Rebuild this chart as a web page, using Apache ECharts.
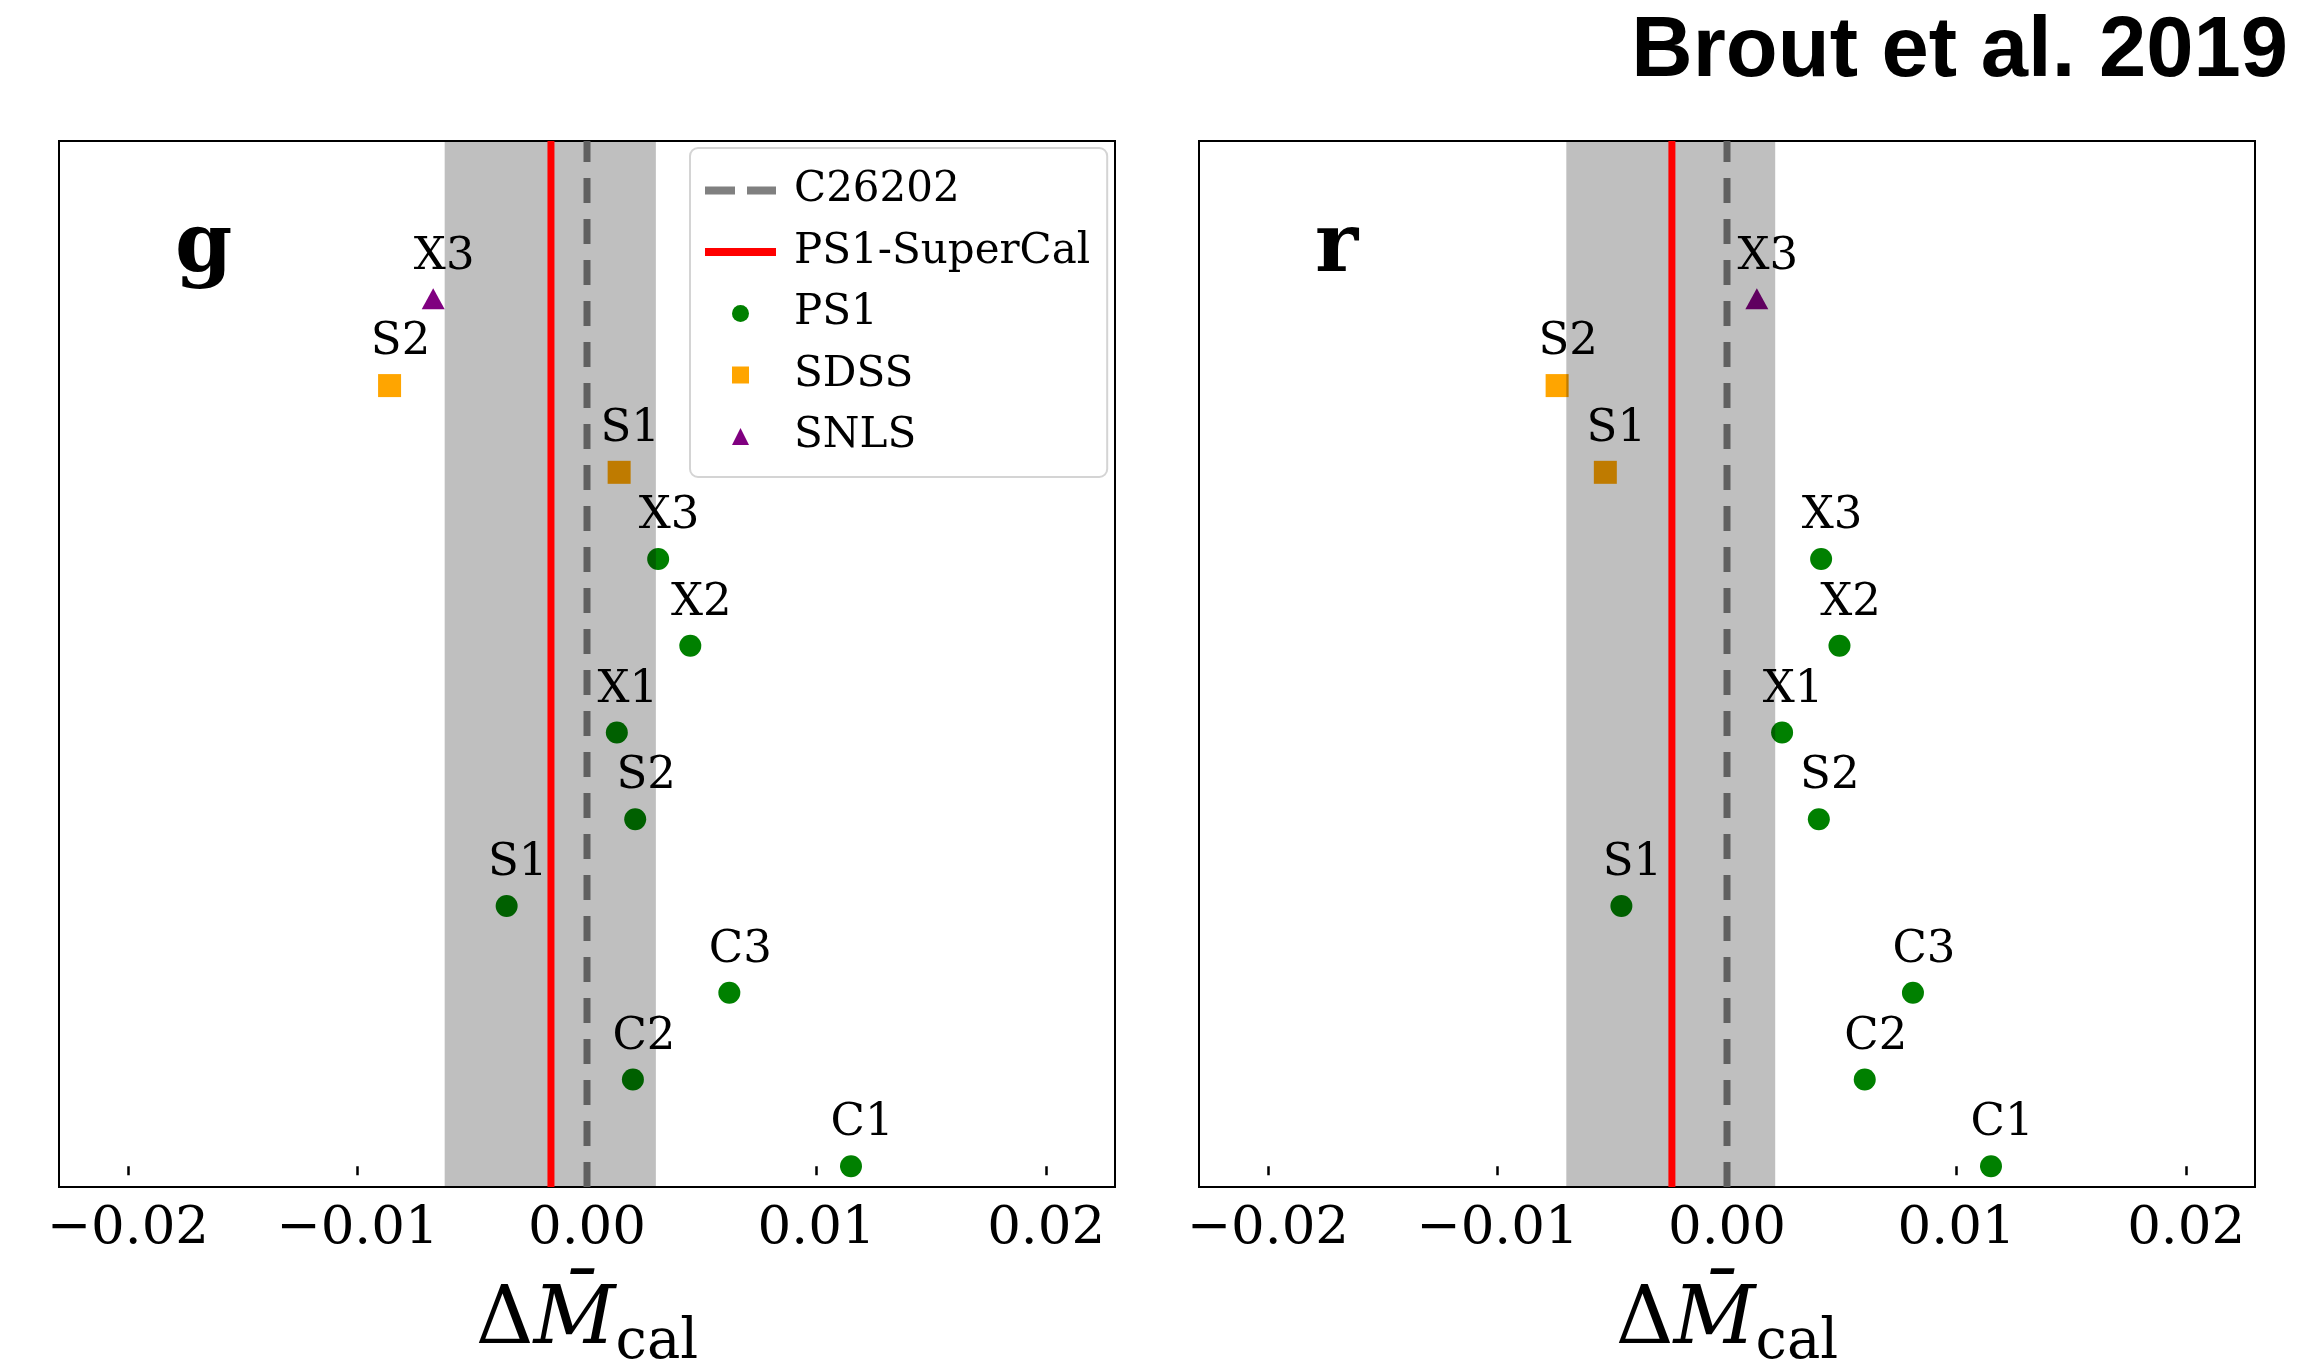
<!DOCTYPE html>
<html><head><meta charset="utf-8">
<script src="https://cdn.jsdelivr.net/npm/echarts@6/dist/echarts.min.js"></script>
<style>html,body{margin:0;padding:0;background:#fff}#c{width:2306px;height:1364px}</style>
</head><body><div id="c"></div>
<script>
// ---------- data ----------
const panelNames = ['g', 'r'];
const ps1Fields = ['C1', 'C2', 'C3', 'S1', 'S2', 'X1', 'X2', 'X3'];
const sdssFields = ['S1', 'S2'];
const snlsFields = ['X3'];
const ps1Rows = [0, 1, 2, 3, 4, 5, 6, 7];
const sdssRows = [8, 9];
const snlsRows = [10];
const gPS1 = [0.0115, 0.0020, 0.0062, -0.0035, 0.0021, 0.0013, 0.0045, 0.0031];
const gSDSS = [0.0014, -0.0086];
const gSNLS = [-0.0067];
const rPS1 = [0.0115, 0.0060, 0.0081, -0.0046, 0.0040, 0.0024, 0.0049, 0.0041];
const rSDSS = [-0.0053, -0.0074];
const rSNLS = [0.0013];
const supercalOffset = [-0.00157, -0.0024];   // g, r
const supercalBandLo = [-0.0062, -0.0070];
const supercalBandHi = [0.0030, 0.0021];
const c26202Offset = [0, 0];
const tickValues = [-0.02, -0.01, 0, 0.01, 0.02];
const xRange = [-0.023, 0.023];
const yRange = [-0.24, 11.82];

// ---------- chart ----------
const chart = echarts.init(document.getElementById('c'), null, {renderer: 'canvas'});
const SERIF = 'DejaVu Serif';
const panelData = [
  {ps1: gPS1, sdss: gSDSS, snls: gSNLS},
  {ps1: rPS1, sdss: rSDSS, snls: rSNLS}
];

function scatter(gi, name, xs, rows, fields, symbol, size, color) {
  return {
    type: 'scatter', name, xAxisIndex: gi, yAxisIndex: gi, z: 2,
    symbol, symbolSize: size,
    itemStyle: {color, opacity: 1, borderWidth: 0},
    data: xs.map((x, i) => ({value: [x, rows[i]], name: fields[i]})),
    label: {show: true, position: 'top', distance: 9, offset: [11, 0], formatter: '{b}',
      fontFamily: SERIF, fontSize: 45, lineHeight: 45, color: '#000'},
    emphasis: {disabled: true}, silent: true, animation: false
  };
}

const series = [];
panelData.forEach((pd, gi) => {
  series.push({
    type: 'line', name: 'C26202', xAxisIndex: gi, yAxisIndex: gi, z: 1,
    data: [[c26202Offset[gi], yRange[0]], [c26202Offset[gi], yRange[1]]],
    symbol: 'none', itemStyle: {color: '#808080'},
    lineStyle: {color: '#808080', width: 7, type: [25, 16]},
    silent: true, animation: false
  });
  series.push(scatter(gi, 'PS1', pd.ps1, ps1Rows, ps1Fields, 'circle', 22, '#008000'));
  series.push(scatter(gi, 'SDSS', pd.sdss, sdssRows, sdssFields, 'rect', 23, '#ffa500'));
  series.push(scatter(gi, 'SNLS', pd.snls, snlsRows, snlsFields, 'triangle', [23, 21], '#800080'));
  series.push({
    type: 'custom', name: 'band', xAxisIndex: gi, yAxisIndex: gi, z: 3,
    data: [[supercalBandLo[gi], supercalBandHi[gi]]],
    renderItem: function (params, api) {
      const p0 = api.coord([api.value(0), yRange[1]]);
      const p1 = api.coord([api.value(1), yRange[0]]);
      return {type: 'rect', shape: {x: p0[0], y: p0[1], width: p1[0] - p0[0], height: p1[1] - p0[1]},
        style: {fill: 'rgba(0,0,0,0.25)'}};
    },
    silent: true, animation: false
  });
  series.push({
    type: 'line', name: 'PS1-SuperCal', xAxisIndex: gi, yAxisIndex: gi, z: 4,
    data: [[supercalOffset[gi], yRange[0]], [supercalOffset[gi], yRange[1]]],
    symbol: 'none', itemStyle: {color: '#ff0000'},
    lineStyle: {color: '#ff0000', width: 7},
    silent: true, animation: false
  });
});

const gridBase = {top: 141, width: 1056, height: 1046, show: true, borderColor: '#000',
  borderWidth: 2, backgroundColor: 'transparent', containLabel: false, outerBoundsMode: 'none'};

function xAxis(gi) {
  return {
    type: 'value', gridIndex: gi, min: xRange[0], max: xRange[1],
    axisLine: {show: false}, splitLine: {show: false},
    axisTick: {show: true, inside: false, length: 9, lineStyle: {color: '#000', width: 2.5}, customValues: tickValues},
    axisLabel: {customValues: tickValues, margin: 16, color: '#000', fontFamily: SERIF, fontSize: 53, lineHeight: 53,
      formatter: v => (v < 0 ? '\u2212' : '') + Math.abs(v).toFixed(2)},
    name: '{d|\u0394}{m|M\u0304}{s|cal}', nameLocation: 'middle', nameGap: 95, nameMoveOverlap: false,
    nameTextStyle: {rich: {
      d: {fontFamily: SERIF, fontSize: 80, lineHeight: 80, color: '#000'},
      m: {fontFamily: SERIF, fontSize: 80, lineHeight: 80, fontStyle: 'italic', color: '#000'},
      s: {fontFamily: SERIF, fontSize: 56, lineHeight: 80, padding: [43, 0, 0, 0], color: '#000'}
    }}
  };
}
function yAxis(gi) {
  return {type: 'value', gridIndex: gi, min: yRange[0], max: yRange[1], show: false, splitLine: {show: false}};
}

const option = {
  backgroundColor: '#ffffff',
  animation: false,
  title: [
    {text: 'Brout et al. 2019', right: 18, top: 10, padding: 0,
      textStyle: {fontFamily: 'Liberation Sans', fontWeight: 'bold', fontSize: 85, lineHeight: 85, color: '#000'}},
    {text: panelNames[0], left: 175, top: 209, padding: 0,
      textStyle: {fontFamily: SERIF, fontWeight: 'bold', fontSize: 82, lineHeight: 82, color: '#000'}},
    {text: panelNames[1], left: 1315, top: 209, padding: 0,
      textStyle: {fontFamily: SERIF, fontWeight: 'bold', fontSize: 82, lineHeight: 82, color: '#000'}}
  ],
  legend: {
    left: 690, top: 148, orient: 'vertical', padding: [21.5, 17, 19.5, 15],
    itemWidth: 71, itemHeight: 17, itemGap: 19.5, symbolKeepAspect: true,
    backgroundColor: 'rgba(255,255,255,0.8)', borderColor: '#d4d4d4', borderWidth: 2, borderRadius: 8,
    selectedMode: false,
    formatter: '{t|{name}}',
    textStyle: {color: '#000', fontFamily: SERIF, fontSize: 42, lineHeight: 42,
      rich: {t: {color: '#000', fontFamily: SERIF, fontSize: 42, lineHeight: 42, padding: [0, 0, 0, 13]}}},
    data: [
      {name: 'C26202', icon: 'path://M0,0h30v8h-30zM42,0h29v8h-29z', itemStyle: {color: '#808080', borderWidth: 0}},
      {name: 'PS1-SuperCal', icon: 'path://M0,0h71v8h-71z', itemStyle: {color: '#ff0000', borderWidth: 0}},
      {name: 'PS1', icon: 'circle', itemStyle: {color: '#008000', borderWidth: 0}},
      {name: 'SDSS', icon: 'path://M0,0h17v17h-17z', itemStyle: {color: '#ffa500', borderWidth: 0}},
      {name: 'SNLS', icon: 'path://M8.5,0L17,17H0z', itemStyle: {color: '#800080', borderWidth: 0}}
    ]
  },
  grid: [Object.assign({left: 59}, gridBase), Object.assign({left: 1199}, gridBase)],
  xAxis: [xAxis(0), xAxis(1)],
  yAxis: [yAxis(0), yAxis(1)],
  series: series
};
chart.setOption(option);
</script>
</body></html>
